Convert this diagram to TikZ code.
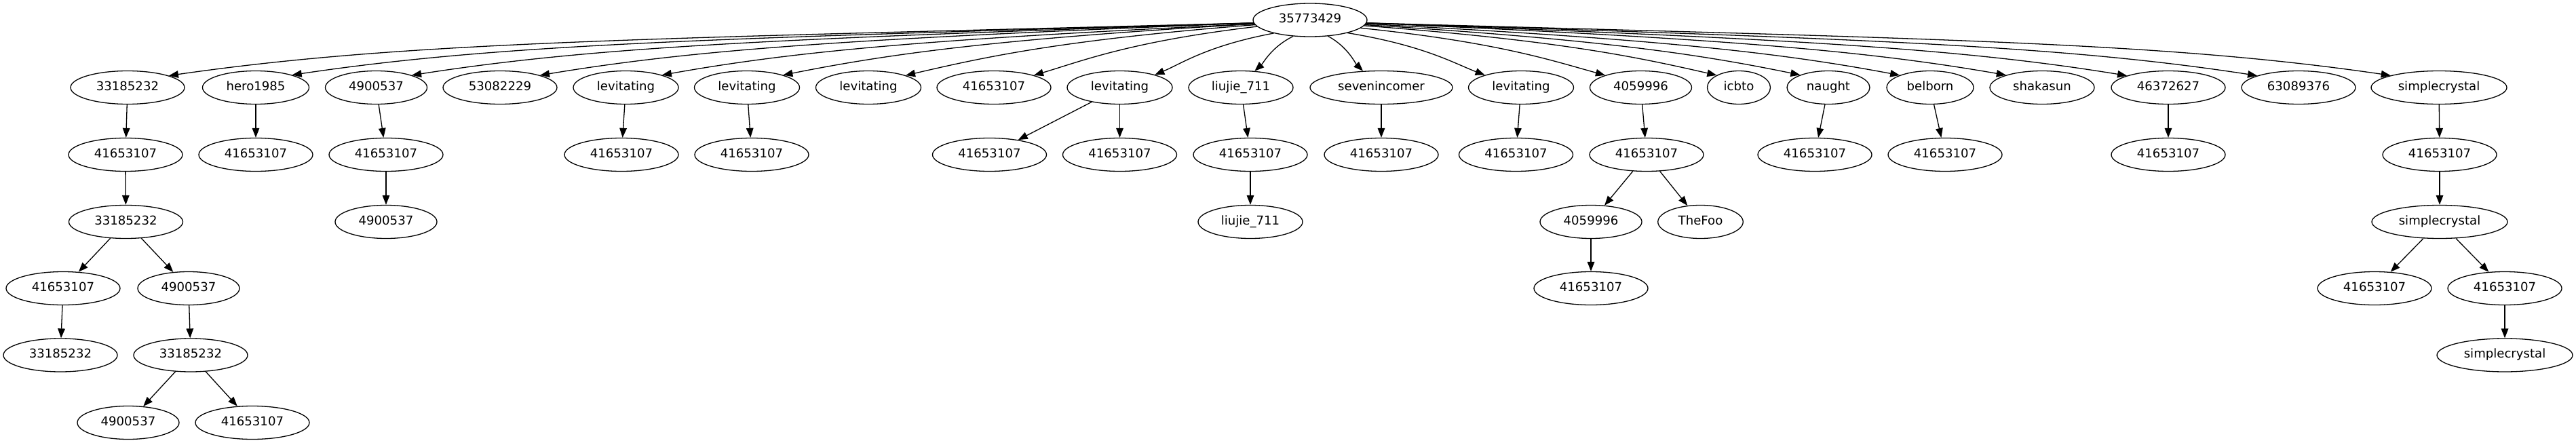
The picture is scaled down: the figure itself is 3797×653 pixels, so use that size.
\documentclass[tikz,border=0pt]{standalone}
\usepackage{fontspec}
\setmainfont{DejaVu Sans}
\usetikzlibrary{arrows.meta,shapes.geometric,calc}
\tikzset{
  gv/.style={ellipse, draw, line width=0.65pt, inner sep=0pt, minimum height=24.5pt,
    text height=6.6pt, text depth=2.26pt, font=\fontsize{9.05}{11}\selectfont},
  d8/.style={gv, minimum width=84pt},
  d7/.style={gv, minimum width=75pt},
  hero/.style={gv, minimum width=78.5pt},
  lev/.style={gv, minimum width=77.5pt},
  liu/.style={gv, minimum width=77pt},
  sev/.style={gv, minimum width=105pt},
  icb/.style={gv, minimum width=46.5pt},
  nau/.style={gv, minimum width=61pt},
  bel/.style={gv, minimum width=64pt},
  sha/.style={gv, minimum width=77pt},
  sim/.style={gv, minimum width=100pt},
  foo/.style={gv, minimum width=62.75pt},
  conn/.style={line width=0.65pt, -{Triangle[length=7pt,width=5.3pt]}},
}
\newcommand\rootedge[3]{%
  \draw[conn] let \p1=(r.#2), \p2=(#1.#3) in (r.#2) .. controls
    ({(\x1)+0.56*((\x2)-(\x1))},{(\y1)+0.3*((\y2)-(\y1))}) and
    ({(\x2)-0.22*((\x2)-(\x1))},{(\y2)-0.2*((\y2)-(\y1))+0.022*abs((\x2)-(\x1))}) .. (#1.#3);}
\begin{document}
\begin{tikzpicture}[x=0.5pt,y=-0.5pt]
\useasboundingbox (0,0) rectangle (3797,653);
% root
\node[d8] (r) at (1931,29.5) {35773429};
% row 2
\node[d8]  (a1)  at (188,129)    {33185232};
\node[hero](a2)  at (377,129)    {hero1985};
\node[d7]  (a3)  at (554.5,129)  {4900537};
\node[d8]  (a4)  at (737,129)    {53082229};
\node[lev] (a5)  at (922.5,129)  {levitating};
\node[lev] (a6)  at (1101,129)   {levitating};
\node[lev] (a7)  at (1280,129)   {levitating};
\node[d8]  (a8)  at (1465,129)   {41653107};
\node[lev] (a9)  at (1650.5,129) {levitating};
\node[liu] (a10) at (1829,129)   {liujie\_711};
\node[sev] (a11) at (2036,129)   {sevenincomer};
\node[lev] (a12) at (2242,129)   {levitating};
\node[d7]  (a13) at (2418.5,129) {4059996};
\node[icb] (a14) at (2563,129)   {icbto};
\node[nau] (a15) at (2695,129)   {naught};
\node[bel] (a16) at (2845,129)   {belborn};
\node[sha] (a17) at (3010,129)   {shakasun};
\node[d8]  (a18) at (3196,129)   {46372627};
\node[d8]  (a19) at (3388,129)   {63089376};
\node[sim] (a20) at (3595,129)   {simplecrystal};
% row 3
\node[d8] (b1)  at (185,228)    {41653107};
\node[d8] (b2)  at (377,228)    {41653107};
\node[d8] (b3)  at (569,228)    {41653107};
\node[d8] (b5)  at (916,228)    {41653107};
\node[d8] (b6)  at (1108,228)   {41653107};
\node[d8] (b9a) at (1458.5,228) {41653107};
\node[d8] (b9b) at (1650.5,228) {41653107};
\node[d8] (b10) at (1843,228)   {41653107};
\node[d8] (b11) at (2036,228)   {41653107};
\node[d8] (b12) at (2234.5,228) {41653107};
\node[d8] (b13) at (2427,228)   {41653107};
\node[d8] (b15) at (2675,228)   {41653107};
\node[d8] (b16) at (2867,228)   {41653107};
\node[d8] (b18) at (3196,228)   {41653107};
\node[d8] (b20) at (3596,228)   {41653107};
% row 4
\node[d8]  (c1)   at (185.5,327)  {33185232};
\node[d7]  (c3)   at (569,327)    {4900537};
\node[liu] (c10)  at (1843,327)   {liujie\_711};
\node[d7]  (c13a) at (2345,327)   {4059996};
\node[foo] (c13b) at (2506.5,327) {TheFoo};
\node[sim] (c20)  at (3596,327)   {simplecrystal};
% row 5
\node[d8] (d1a)  at (93,425)   {41653107};
\node[d7] (d1b)  at (278,425)  {4900537};
\node[d8] (d13)  at (2345,425) {41653107};
\node[d8] (d20a) at (3500,425) {41653107};
\node[d8] (d20b) at (3692,425) {41653107};
% row 6
\node[d8]  (e1a) at (89,523.5)   {33185232};
\node[d8]  (e1b) at (281,523.5)  {33185232};
\node[sim] (e20) at (3692,523.5) {simplecrystal};
% row 7
\node[d7] (f1) at (189,623) {4900537};
\node[d8] (f2) at (372,623) {41653107};
% root edges
\rootedge{a1}{183}{16}
\rootedge{a2}{183}{19}
\rootedge{a3}{183}{19}
\rootedge{a4}{183}{17}
\rootedge{a5}{184}{19}
\rootedge{a6}{184}{19}
\rootedge{a7}{185}{18}
\rootedge{a8}{187}{17}
\rootedge{a9}{200}{20}
\rootedge{a10}{224}{50}
\rootedge{a11}{318}{138}
\rootedge{a12}{341}{161}
\rootedge{a13}{351}{161}
\rootedge{a14}{354}{151}
\rootedge{a15}{355}{156}
\rootedge{a16}{356}{158}
\rootedge{a17}{357}{161}
\rootedge{a18}{357}{164}
\rootedge{a19}{357}{164}
\rootedge{a20}{357}{166}
% tree edges
\draw[conn] (a1) -- (b1);
\draw[conn] (a2) -- (b2);
\draw[conn] (a3) -- (b3);
\draw[conn] (a5) -- (b5);
\draw[conn] (a6) -- (b6);
\draw[conn] (a9) -- (b9a);
\draw[conn] (a9) -- (b9b);
\draw[conn] (a10) -- (b10);
\draw[conn] (a11) -- (b11);
\draw[conn] (a12) -- (b12);
\draw[conn] (a13) -- (b13);
\draw[conn] (a15) -- (b15);
\draw[conn] (a16) -- (b16);
\draw[conn] (a18) -- (b18);
\draw[conn] (a20) -- (b20);
\draw[conn] (b1) -- (c1);
\draw[conn] (b3) -- (c3);
\draw[conn] (b10) -- (c10);
\draw[conn] (b13) -- (c13a);
\draw[conn] (b13) -- (c13b);
\draw[conn] (b20) -- (c20);
\draw[conn] (c1) -- (d1a);
\draw[conn] (c1) -- (d1b);
\draw[conn] (c13a) -- (d13);
\draw[conn] (c20) -- (d20a);
\draw[conn] (c20) -- (d20b);
\draw[conn] (d1a) -- (e1a);
\draw[conn] (d1b) -- (e1b);
\draw[conn] (d20b) -- (e20);
\draw[conn] (e1b) -- (f1);
\draw[conn] (e1b) -- (f2);
\end{tikzpicture}
\end{document}
